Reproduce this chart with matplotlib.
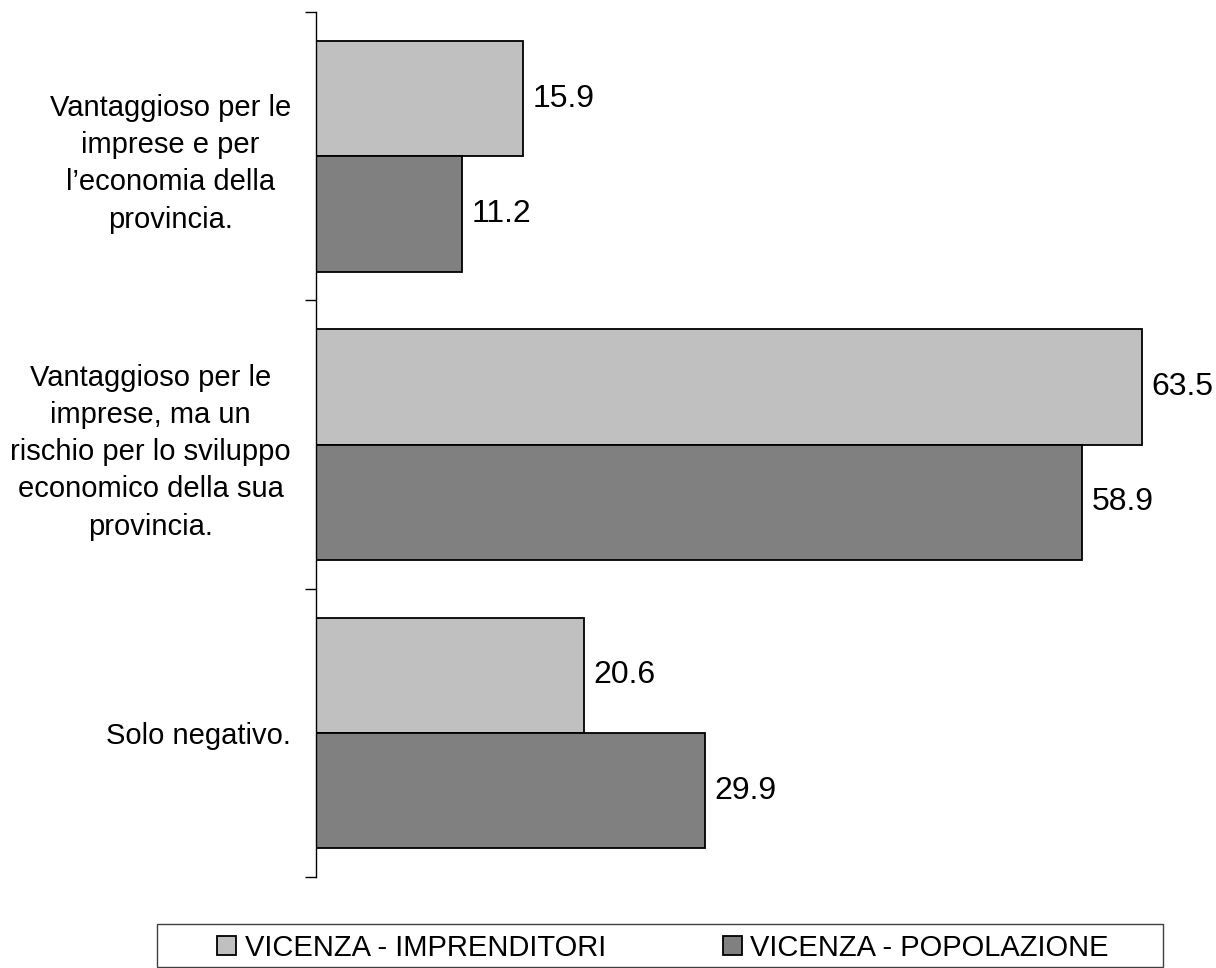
import numpy as np
import matplotlib.pyplot as plt
from matplotlib.patches import Rectangle

# Dati
categorie = ['Vantaggioso per le\nimprese e per\nl\u2019economia della\nprovincia.',
             'Vantaggioso per le\nimprese, ma un\nrischio per lo sviluppo\neconomico della sua\nprovincia.',
             'Solo negativo.']
imprenditori = [15.9, 63.5, 20.6]
popolazione = [11.2, 58.9, 29.9]
serie = ['VICENZA - IMPRENDITORI', 'VICENZA - POPOLAZIONE']

plt.rcParams['font.family'] = ['Liberation Sans', 'DejaVu Sans']

W, H = 1216, 968
fig = plt.figure(figsize=(W / 100, H / 100), dpi=100)
ax = fig.add_axes([316 / W, 1 - 877 / H, (1190 - 316) / W, (877 - 12) / H])

y = np.arange(len(categorie))
h = 0.4
b1 = ax.barh(y - h / 2, imprenditori, height=h, color='#c0c0c0', edgecolor='black', linewidth=1.3, label=serie[0])
b2 = ax.barh(y + h / 2, popolazione, height=h, color='#808080', edgecolor='black', linewidth=1.3, label=serie[1])

for bars, vals in ((b1, imprenditori), (b2, popolazione)):
    for rect, v in zip(bars, vals):
        ax.text(rect.get_width() + 0.75, rect.get_y() + rect.get_height() / 2, f'{v:.1f}',
                va='center', ha='left', fontsize=23)

ax.set_xlim(0, 67.2)
ax.set_ylim(2.5, -0.5)

# tacche ai bordi delle categorie, etichette al centro
ax.set_yticks([-0.5, 0.5, 1.5, 2.5])
ax.set_yticklabels([])
ax.set_yticks(y, minor=True)
ax.set_yticklabels(categorie, minor=True, fontsize=21, multialignment='center', linespacing=1.42)
ax.tick_params(axis='y', which='major', length=8, width=1, direction='out')
ax.tick_params(axis='y', which='minor', length=0, pad=18)
ax.set_xticks([])

for s in ('top', 'right', 'bottom'):
    ax.spines[s].set_visible(False)
ax.spines['left'].set_linewidth(1)

# legenda
fig.patches.append(Rectangle((157 / W, 1 - 967 / H), (1163 - 157) / W, (967 - 924) / H,
                             transform=fig.transFigure, facecolor='white',
                             edgecolor='#404040', linewidth=1))
fig.legend(handles=[b1, b2], loc='center', bbox_to_anchor=(663 / W, 1 - 948 / H),
           ncol=2, frameon=False, fontsize=21, handlelength=0.65, handleheight=0.65,
           handletextpad=0.3, columnspacing=4.0, borderpad=0)

fig.savefig('out.png', dpi=100)
